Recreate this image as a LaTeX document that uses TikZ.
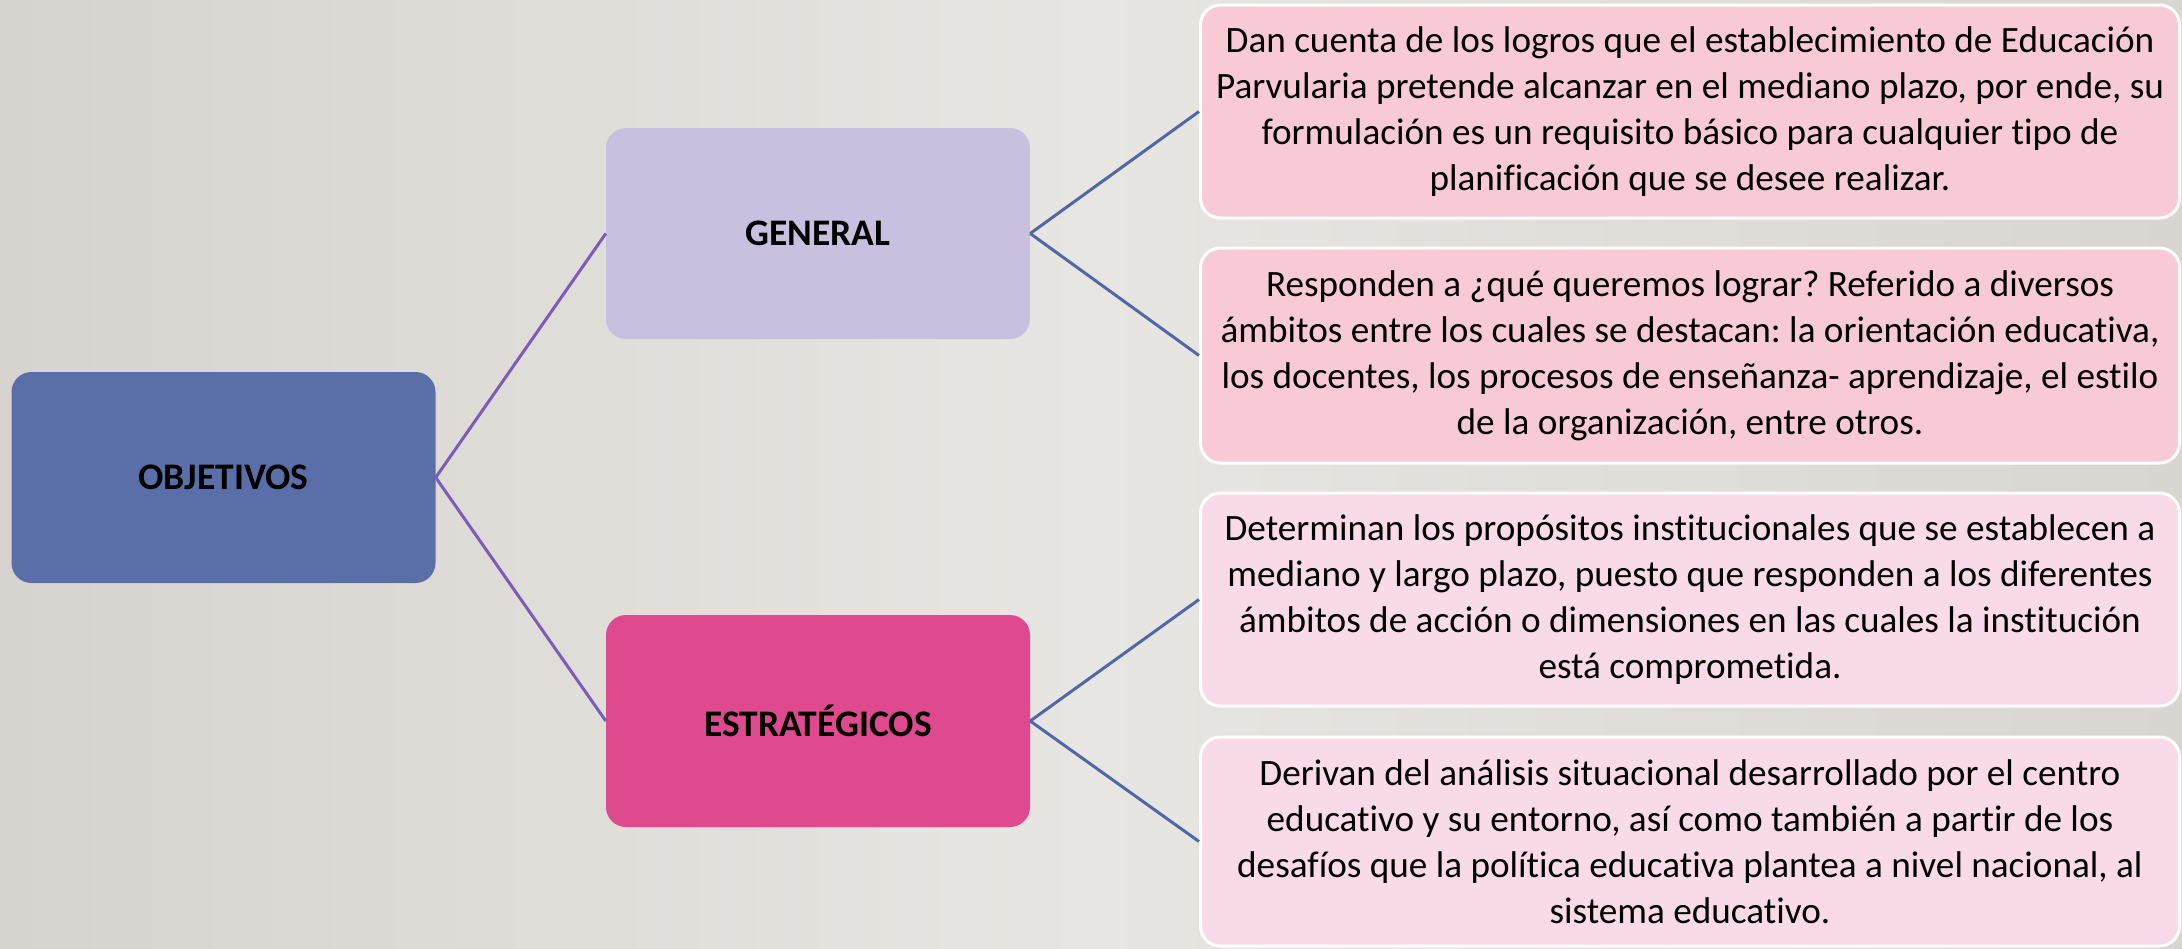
\documentclass[tikz,border=0pt]{standalone}
\usepackage{fontspec}
\setmainfont[Ligatures=NoCommon]{Carlito}
\frenchspacing
\definecolor{bgL}{HTML}{D7D4CF}
\definecolor{bgM}{HTML}{E8E6E2}
\definecolor{bgR}{HTML}{D9D6D1}
\definecolor{objC}{HTML}{5A6FA8}
\definecolor{genC}{HTML}{C9C0DF}
\definecolor{estC}{HTML}{DF4A8E}
\definecolor{pinkA}{HTML}{F7CAD6}
\definecolor{pinkB}{HTML}{F8DAE8}
\definecolor{purL}{HTML}{7B5CB8}
\definecolor{bluL}{HTML}{4F68A8}
\tikzset{
  mainbox/.style={rounded corners=20pt, inner sep=0pt, font=\fontsize{37.5}{44}\selectfont\bfseries, text=black},
  descbox/.style={rounded corners=20pt, draw=white, line width=3pt, inner sep=0pt, align=center,
     font=\fontsize{37.2}{46}\selectfont, text=black, minimum width=979pt},
  purline/.style={draw=purL, line width=3pt},
  blueline/.style={draw=bluL, line width=3pt}
}
\begin{document}
\begin{tikzpicture}[x=1pt,y=-1pt]
\shade[left color=bgL, right color=bgR, middle color=bgM] (0,0) rectangle (2182,948);
\useasboundingbox (0,0) rectangle (2182,948);
\node[mainbox, fill=objC, minimum width=424pt, minimum height=211pt] (obj) at (223.5,477.5) {OBJETIVOS};
\node[mainbox, fill=genC, minimum width=424pt, minimum height=211pt] (gen) at (818,233.5) {GENERAL};
\node[mainbox, fill=estC, minimum width=424pt, minimum height=212pt] (est) at (818,721) {ESTRATÉGICOS};
\node[descbox, fill=pinkA, minimum height=213pt] (d1) at (1690,111.5)
 {Dan cuenta de los logros que el establecimiento de Educación\\
  Parvularia pretende alcanzar en el mediano plazo, por ende, su\\
  formulación es un requisito básico para cualquier tipo de\\
  planificación que se desee realizar.};
\node[descbox, fill=pinkA, minimum height=215pt] (d2) at (1690,355.5)
 {Responden a ¿qué queremos lograr? Referido a diversos\\
  ámbitos entre los cuales se destacan: la orientación educativa,\\
  los docentes, los procesos de enseñanza- aprendizaje, el estilo\\
  de la organización, entre otros.};
\node[descbox, fill=pinkB, minimum height=213pt] (d3) at (1690,599.5)
 {Determinan los propósitos institucionales que se establecen a\\
  mediano y largo plazo, puesto que responden a los diferentes\\
  ámbitos de acción o dimensiones en las cuales la institución\\
  está comprometida.};
\node[descbox, fill=pinkB, minimum height=209pt] (d4) at (1690,841.5)
 {Derivan del análisis situacional desarrollado por el centro\\
  educativo y su entorno, así como también a partir de los\\
  desafíos que la política educativa plantea a nivel nacional, al\\
  sistema educativo.};
\draw[purline] (obj.east) -- (gen.west);
\draw[purline] (obj.east) -- (est.west);
\draw[blueline] (gen.east) -- (d1.west);
\draw[blueline] (gen.east) -- (d2.west);
\draw[blueline] (est.east) -- (d3.west);
\draw[blueline] (est.east) -- (d4.west);
\end{tikzpicture}
\end{document}
